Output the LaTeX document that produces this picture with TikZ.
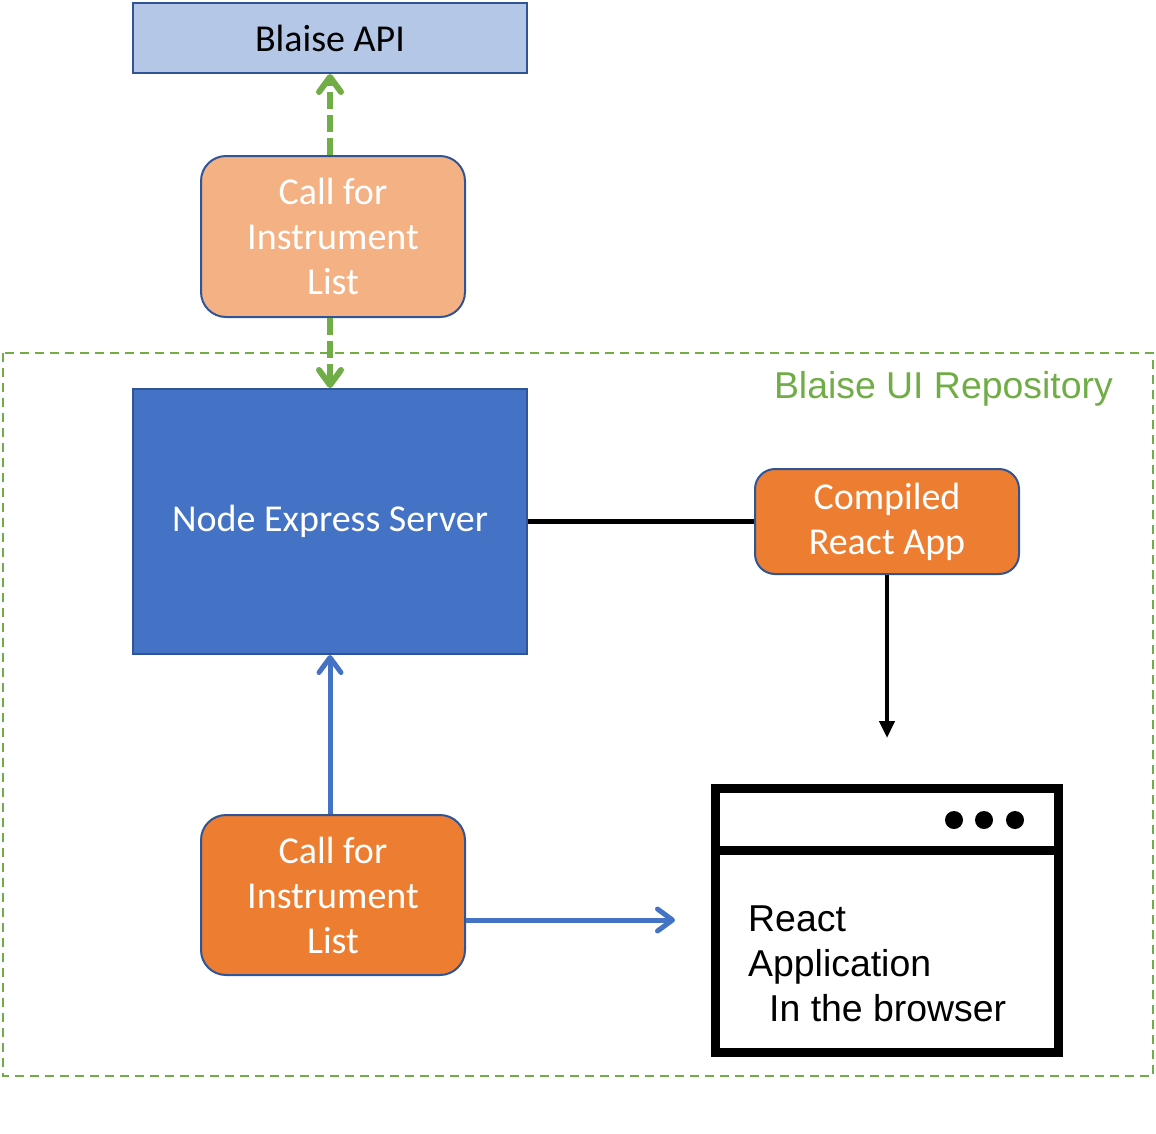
\documentclass[tikz,border=0pt]{standalone}
\usepackage{fontspec}
\setmainfont{Carlito}
\newfontfamily\arialfont{Liberation Sans}
\usetikzlibrary{arrows.meta}

\definecolor{apifill}{HTML}{B4C7E7}
\definecolor{edgeblue}{HTML}{2F5597}
\definecolor{serverblue}{HTML}{4472C4}
\definecolor{lightorange}{HTML}{F4B183}
\definecolor{darkorange}{HTML}{ED7D31}
\definecolor{repogreen}{HTML}{70AD47}

\begin{document}
\begin{tikzpicture}[x=1pt, y=-1pt,
		box/.style={draw=edgeblue, line width=2pt, inner sep=0pt, align=center,
			font=\fontsize{38}{45}\selectfont},
		callbox/.style={box, rounded corners=25pt, text=white,
			minimum width=264pt, minimum height=160pt},
		greenarrow/.style={draw=repogreen, line width=6pt, dash pattern=on 17pt off 6pt,
			-{Straight Barb[round, length=15pt, width=22pt]}},
		bluearrow/.style={draw=serverblue, line width=5pt,
			-{Straight Barb[round, length=15pt, width=22pt]}}]
			\def\lx{330};

			\useasboundingbox (0,0) rectangle (1156,1133);

			\draw [repogreen, line width=1.5pt, dash pattern=on 9pt off 6pt] (3,353) rectangle (1153,1076);
			\node [anchor=base east, inner sep=0pt, text=repogreen,
				font=\arialfont\fontsize{37.4}{45}\selectfont] (repolabel) at (1113,398) {Blaise UI Repository};

			\node [box, fill=apifill, minimum width=394pt, minimum height=70pt] (api) at (\lx,38) {Blaise API};
			\node [callbox, fill=lightorange, minimum height=161pt] (calltop) at (333,236.5) {Call for\\Instrument\\List};
			\node [box, fill=serverblue, text=white, minimum width=394pt, minimum height=265pt] (server) at (\lx,521.5) {Node Express Server};
			\node [callbox, fill=darkorange, rounded corners=20pt, minimum height=105pt] (compiled) at (887,521.5) {Compiled\\React App};
			\node [callbox, fill=darkorange] (callbottom) at (333,895) {Call for\\Instrument\\List};

			\node [draw, line width=9pt, inner sep=0pt, minimum width=343pt, minimum height=264pt] (browser) at (887,920.5) {};
			\draw [line width=9pt] ([yshift=-66pt]browser.north west) -- ([yshift=-66pt]browser.north east);
			\foreach \x in {954,984,1015}
				\fill (\x,820) circle (9);
			\node [anchor=north west, inner sep=0pt, align=left,
				font=\arialfont\fontsize{37.4}{45}\selectfont] (browsertext) at (748,906) {React\\Application\\\hspace*{21pt}In the browser};

			\coordinate (browserin) at (675,920);
			\coordinate (browsertop) at (887,738);

			\draw [greenarrow] (calltop.north -| api.south) -- (api.south);
			\draw [greenarrow] (calltop.south -| server.north) -- (server.north);
			\draw [bluearrow] (callbottom.north -| server.south) -- (server.south);
			\draw [bluearrow] (callbottom.east |- browserin) -- (browserin);
			\draw [line width=5.5pt] (server.east) -- (compiled.west);
			\draw [line width=4.5pt, -{Triangle[length=17pt, width=15pt]}] (compiled.south) -- (browsertop);
		\end{tikzpicture}
\end{document}
